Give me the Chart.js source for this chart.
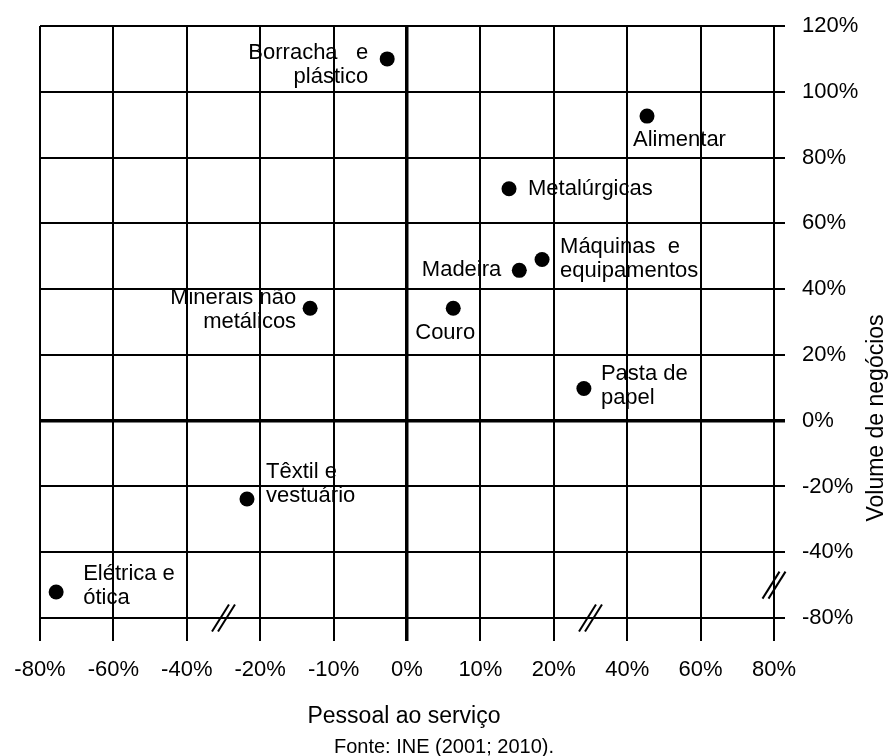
<!DOCTYPE html>
<html>
<head>
<meta charset="utf-8">
<script src="https://cdn.jsdelivr.net/npm/chart.js@4.4.0/dist/chart.umd.min.js"></script>
<style>
  html, body { margin: 0; padding: 0; background: #fff; }
  #wrap { width: 891px; height: 756px; }
</style>
</head>
<body>
<div id="wrap"><canvas id="chart" width="891" height="756"></canvas></div>
<script>
// broken axes: ticks are evenly spaced but their values are not
const xTickValues = [-80, -60, -40, -20, -10, 0, 10, 20, 40, 60, 80];
const yTickValues = [-80, -40, -20, 0, 20, 40, 60, 80, 100, 120];
const xTickLabels = ["-80%", "-60%", "-40%", "-20%", "-10%", "0%", "10%", "20%", "40%", "60%", "80%"];
const yTickLabels = ["-80%", "-40%", "-20%", "0%", "20%", "40%", "60%", "80%", "100%", "120%"];

const sectors = [
  "Borracha e plástico", "Alimentar", "Metalúrgicas", "Máquinas e equipamentos", "Madeira",
  "Couro", "Minerais não metálicos", "Pasta de papel", "Têxtil e vestuário", "Elétrica e ótica"
];
const sectorLines = [
  ["Borracha   e", "plástico"], ["Alimentar"], ["Metalúrgicas"], ["Máquinas  e", "equipamentos"], ["Madeira"],
  ["Couro"], ["Minerais não", "metálicos"], ["Pasta de", "papel"], ["Têxtil e", "vestuário"], ["Elétrica e", "ótica"]
];
// variação do pessoal ao serviço (%)
const pessoal = [-2.7, 45.4, 13.9, 18.4, 15.3, 6.3, -13.2, 28.2, -23.6, -75.6];
// variação do volume de negócios (%)
const volume = [110, 92.6, 70.5, 49, 45.7, 34.2, 34.2, 9.8, -23.8, -64.2];

// label placement relative to the dot: [dx, dy of first line, text align]
const labelPlace = [
  [-19, -6, "right"], [-14, 24, "left"], [19, 0, "left"], [18, -13, "left"], [-18, 0, "right"],
  [-38, 25, "left"], [-14, -10, "right"], [17, -14, "left"], [19, -27, "left"], [27, -18, "left"]
];

const FONT = '"Liberation Sans", Arial, sans-serif';

function toAxis(v, ticks) {
  for (let i = 0; i < ticks.length - 1; i++) {
    if (v <= ticks[i + 1] || i === ticks.length - 2) {
      return i + (v - ticks[i]) / (ticks[i + 1] - ticks[i]);
    }
  }
}

const points = pessoal.map((p, i) => ({ x: toAxis(p, xTickValues), y: toAxis(volume[i], yTickValues) }));

const overlay = {
  id: "overlay",
  afterDraw(chart) {
    const ctx = chart.ctx;
    const xs = chart.scales.x, ys = chart.scales.y;
    ctx.save();
    ctx.fillStyle = "#000";
    ctx.strokeStyle = "#000";

    // point labels
    ctx.font = "22px " + FONT;
    ctx.textBaseline = "middle";
    points.forEach((pt, i) => {
      const px = xs.getPixelForValue(pt.x), py = ys.getPixelForValue(pt.y);
      const [dx, dy, align] = labelPlace[i];
      ctx.textAlign = align;
      sectorLines[i].forEach((line, k) => ctx.fillText(line, px + dx, py + dy + k * 24));
    });

    // axis break marks
    ctx.lineWidth = 2;
    const breaks = [[2.5, 0], [7.5, 0], [10, 0.5]];
    breaks.forEach(([bx, by]) => {
      const cx = xs.getPixelForValue(bx), cy = ys.getPixelForValue(by);
      [-3, 3].forEach(off => {
        ctx.beginPath();
        ctx.moveTo(cx + off - 8.5, cy + 13.5);
        ctx.lineTo(cx + off + 8.5, cy - 13.5);
        ctx.stroke();
      });
    });

    // axis titles and source
    ctx.textAlign = "center";
    ctx.font = "23px " + FONT;
    ctx.fillText("Pessoal ao serviço", 404, 717);
    ctx.font = "20px " + FONT;
    ctx.fillText("Fonte: INE (2001; 2010).", 444, 747);

    ctx.translate(877, 418);
    ctx.rotate(-Math.PI / 2);
    ctx.font = "23px " + FONT;
    ctx.fillText("Volume de negócios", 0, 0);
    ctx.restore();
  }
};

Chart.defaults.font.family = FONT;
Chart.defaults.color = "#000";

new Chart(document.getElementById("chart").getContext("2d"), {
  type: "scatter",
  data: {
    datasets: [{
      label: "Setores",
      data: points,
      pointRadius: 7.5,
      pointHoverRadius: 7.5,
      backgroundColor: "#000",
      borderWidth: 0
    }]
  },
  options: {
    responsive: false,
    animation: false,
    events: [],
    layout: { padding: { left: 40, top: 26, right: 0, bottom: 0 } },
    plugins: {
      legend: { display: false },
      tooltip: { enabled: false }
    },
    scales: {
      x: {
        type: "linear",
        min: 0,
        max: xTickValues.length - 1,
        afterBuildTicks: s => { s.ticks = xTickValues.map((_, i) => ({ value: i })); },
        afterFit: s => { s.height = 138; s.paddingLeft = 0; s.paddingRight = 0; },
        ticks: {
          callback: v => xTickLabels[v],
          autoSkip: false,
          maxRotation: 0,
          padding: 16,
          color: "#000",
          font: { size: 22 }
        },
        grid: {
          color: "#000",
          lineWidth: c => (c.tick && c.tick.value === 5 ? 3.5 : 2),
          tickLength: 23
        },
        border: { display: false }
      },
      y: {
        type: "linear",
        position: "right",
        min: 0,
        max: yTickValues.length - 1,
        afterBuildTicks: s => { s.ticks = yTickValues.map((_, i) => ({ value: i })); },
        afterFit: s => { s.width = 117; s.paddingTop = 0; s.paddingBottom = 0; },
        ticks: {
          callback: v => yTickLabels[v],
          autoSkip: false,
          padding: 17,
          color: "#000",
          font: { size: 22 }
        },
        grid: {
          color: "#000",
          lineWidth: c => (c.tick && c.tick.value === 3 ? 3.5 : 2),
          tickLength: 11
        },
        border: { display: false }
      }
    }
  },
  plugins: [overlay]
});
</script>
</body>
</html>
